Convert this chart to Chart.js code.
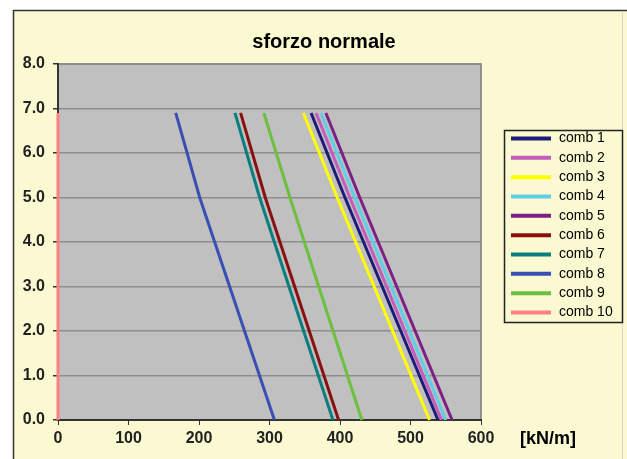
<!DOCTYPE html>
<html>
<head>
<meta charset="utf-8">
<script src="https://cdn.jsdelivr.net/npm/chart.js@4/dist/chart.umd.min.js"></script>
<style>
    html, body { margin: 0; padding: 0; background: #ffffff; }
    #wrap { width: 627px; height: 459px; position: relative; }
</style>
</head>
<body>
<div id="wrap"><canvas id="sforzoChart" width="627" height="459"></canvas></div>
<script>
// depth (m) at which each value is read
const depths = [0.0, 5.0, 6.9];

// normal force [kN/m] per load combination, at the depths above
const comb1 = [539, 407, 359];
const comb2 = [544, 414, 366];
const comb3 = [527, 396, 348];
const comb4 = [550, 421, 373];
const comb5 = [559, 428, 380];
const comb6 = [398, 294, 259];
const comb7 = [390, 286, 251];
const comb8 = [307, 201, 167];
const comb9 = [431, 329, 292];
const comb10 = [0, 0, 0];

const seriesNames = ['comb 1', 'comb 2', 'comb 3', 'comb 4', 'comb 5', 'comb 6', 'comb 7', 'comb 8', 'comb 9', 'comb 10'];
const seriesValues = [comb1, comb2, comb3, comb4, comb5, comb6, comb7, comb8, comb9, comb10];
const seriesColors = ['#1c1c78', '#c45cbc', '#ffff00', '#5fcfe6', '#7e1f86', '#8a1010', '#0a7e7e', '#3a4fb4', '#6cc040', '#ff8080'];

const xTicks = [0, 100, 200, 300, 400, 500, 600];
const yTicks = [0, 1, 2, 3, 4, 5, 6, 7, 8];

const datasets = seriesNames.map((name, i) => ({
    label: name,
    data: seriesValues[i].map((v, k) => ({ x: v, y: depths[k] })),
    borderColor: seriesColors[i],
    backgroundColor: seriesColors[i],
    borderWidth: 3,
    pointRadius: 0,
    showLine: true,
    fill: false,
    tension: 0,
    clip: 4
}));

// frame, plot background, title and boxed legend
const decorations = {
    id: 'decorations',
    beforeDraw(chart) {
        const ctx = chart.ctx;
        const a = chart.chartArea;
        ctx.save();
        ctx.fillStyle = '#faf9d2';
        ctx.fillRect(13, 10, 614, 449);
        ctx.strokeStyle = '#333333';
        ctx.lineWidth = 1.5;
        ctx.beginPath();
        ctx.moveTo(13.5, 459);
        ctx.lineTo(13.5, 10.5);
        ctx.lineTo(627, 10.5);
        ctx.stroke();
        ctx.strokeStyle = '#d8d8c0';
        ctx.lineWidth = 1;
        ctx.beginPath();
        ctx.moveTo(622.5, 11);
        ctx.lineTo(622.5, 459);
        ctx.stroke();

        ctx.fillStyle = '#c0c0c0';
        ctx.fillRect(a.left, a.top, a.right - a.left, a.bottom - a.top);
        ctx.strokeStyle = '#7a7a7a';
        ctx.lineWidth = 1.5;
        ctx.strokeRect(a.left, a.top, a.right - a.left, a.bottom - a.top);

        ctx.fillStyle = '#000000';
        ctx.font = 'bold 20px Arial, "Liberation Sans", sans-serif';
        ctx.textAlign = 'center';
        ctx.textBaseline = 'middle';
        ctx.fillText('sforzo normale', 324, 42);

        ctx.font = 'bold 18px Arial, "Liberation Sans", sans-serif';
        ctx.textAlign = 'left';
        ctx.fillText('[kN/m]', 520, 439);
        ctx.restore();
    },
    afterDraw(chart) {
        const ctx = chart.ctx;
        const left = 504, top = 130, w = 118, h = 192;
        ctx.save();
        ctx.fillStyle = '#faf9d2';
        ctx.fillRect(left, top, w, h);
        ctx.strokeStyle = '#222222';
        ctx.lineWidth = 1.5;
        ctx.strokeRect(left + 0.5, top + 0.5, w, h);
        ctx.font = '14px Arial, "Liberation Sans", sans-serif';
        ctx.textBaseline = 'middle';
        ctx.textAlign = 'left';
        chart.data.datasets.forEach((ds, i) => {
            const y = top + 8.5 + i * 19.33;
            ctx.strokeStyle = ds.borderColor;
            ctx.lineWidth = 4;
            ctx.beginPath();
            ctx.moveTo(511, y);
            ctx.lineTo(551, y);
            ctx.stroke();
            ctx.fillStyle = '#000000';
            ctx.fillText(ds.label, 559, y);
        });
        ctx.restore();
    }
};

const tickFont = { family: 'Arial, "Liberation Sans", sans-serif', size: 16, weight: 'bold' };

new Chart(document.getElementById('sforzoChart'), {
    type: 'scatter',
    data: { datasets: datasets },
    options: {
        responsive: false,
        animation: false,
        layout: { padding: { left: 13, right: 146, top: 64, bottom: 9 } },
        plugins: {
            legend: { display: false },
            title: { display: false },
            tooltip: { enabled: false }
        },
        scales: {
            x: {
                type: 'linear',
                min: 0,
                max: 600,
                afterFit: (s) => { s.height = 30; },
                afterBuildTicks: (s) => { s.ticks = xTicks.map(v => ({ value: v })); },
                grid: { drawOnChartArea: false, tickLength: 5, tickColor: '#333333' },
                border: { color: '#333333', width: 2 },
                ticks: { color: '#222222', font: tickFont, padding: 4, maxRotation: 0 }
            },
            y: {
                type: 'linear',
                min: 0,
                max: 8,
                afterFit: (s) => { s.width = 45; },
                afterBuildTicks: (s) => { s.ticks = yTicks.map(v => ({ value: v })); },
                grid: { color: '#8e8e8e', lineWidth: 1.5, tickLength: 5, tickColor: '#333333' },
                border: { color: '#333333', width: 2 },
                ticks: {
                    color: '#222222',
                    font: tickFont,
                    padding: 8,
                    callback: (v) => Number(v).toFixed(1)
                }
            }
        }
    },
    plugins: [decorations]
});
</script>
</body>
</html>
